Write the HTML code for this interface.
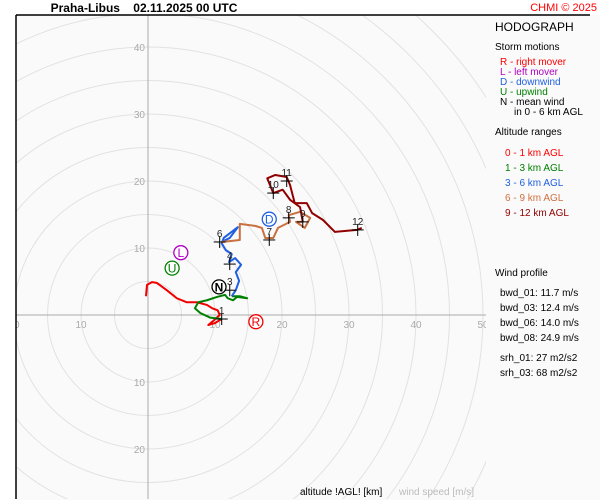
<!DOCTYPE html>
<html><head><meta charset="utf-8"><style>
html,body{margin:0;padding:0;background:#fff;font-family:"Liberation Sans",sans-serif;overflow:hidden;width:600px;height:500px;}
svg{display:block;overflow:hidden;}
svg text{font-family:"Liberation Sans",sans-serif;white-space:pre;}
</style></head><body>
<svg id="chart" width="600" height="500" viewBox="0 0 600 500" xmlns="http://www.w3.org/2000/svg">
<defs><clipPath id="pc"><rect x="16" y="15" width="470" height="484"/></clipPath></defs>
<rect x="0" y="0" width="600" height="500" fill="#fff"/>
<rect x="16" y="15" width="584" height="485" fill="#fafafa"/>
<g id="grid" clip-path="url(#pc)"></g>
<g id="series" clip-path="url(#pc)"></g>
<g id="marks"></g>
<line x1="16" y1="15" x2="590" y2="15" stroke="#000" stroke-width="1.5"/>
<line x1="16" y1="15" x2="16" y2="499" stroke="#000" stroke-width="1.5"/>
<text x="144" y="12" font-size="12" font-weight="bold" text-anchor="middle" xml:space="preserve">Praha-Libus    02.11.2025 00 UTC</text>
<text x="597" y="11" font-size="11" fill="#f00" text-anchor="end">CHMI © 2025</text>
<g font-size="11">
<text x="495" y="31" font-size="12">HODOGRAPH</text>
<text x="495" y="50" font-size="10">Storm motions</text>
<text x="500" y="65" font-size="10" fill="#f00">R - right mover</text>
<text x="500" y="75" font-size="10" fill="#b000c0">L - left mover</text>
<text x="500" y="85" font-size="10" fill="#2060e0">D - downwind</text>
<text x="500" y="95" font-size="10" fill="#008000">U - upwind</text>
<text x="500" y="105" font-size="10">N - mean wind</text>
<text x="514" y="115" font-size="10">in 0 - 6 km AGL</text>
<text x="495" y="135" font-size="10">Altitude ranges</text>
<text x="505" y="156" font-size="10" fill="#f00">0 - 1 km AGL</text>
<text x="505" y="171" font-size="10" fill="#008000">1 - 3 km AGL</text>
<text x="505" y="186" font-size="10" fill="#2060e0">3 - 6 km AGL</text>
<text x="505" y="201" font-size="10" fill="#d07040">6 - 9 km AGL</text>
<text x="505" y="216" font-size="10" fill="#900000">9 - 12 km AGL</text>
<text x="495" y="276" font-size="10">Wind profile</text>
<text x="500" y="296" font-size="10">bwd_01: 11.7 m/s</text>
<text x="500" y="311" font-size="10">bwd_03: 12.4 m/s</text>
<text x="500" y="326" font-size="10">bwd_06: 14.0 m/s</text>
<text x="500" y="341" font-size="10">bwd_08: 24.9 m/s</text>
<text x="500" y="361" font-size="10">srh_01: 27 m2/s2</text>
<text x="500" y="376" font-size="10">srh_03: 68 m2/s2</text>
</g>
<text x="300" y="495" font-size="10">altitude !AGL! [km]</text>
<text x="399" y="495" font-size="10" fill="#bbb">wind speed [m/s]</text>
</svg>
<script>
const ringSpeeds=[5,10,15,20,25,30,35,40,45,50,55,60];
const xTicks=[-20,-10,10,20,30,40,50];
const yTicks=[40,30,20,10,-10,-20];
const layerNames=['0-1km','1-3km','3-6km','6-9km','9-12km'];
const layerColors=['#f00000','#008000','#2060e0','#c87040','#900000'];
const u01=[-0.3,-0.15,0.6,1.3,2.8,4.3,5.8,7.3,8.8,9.6,10.4,10.7,9.6,9.0,10.0,11.0];
const v01=[2.8,4.5,4.9,4.8,3.7,2.5,1.9,1.9,1.5,1.0,0.7,0,-1.0,-1.5,-1.2,-0.6];
const u13=[11.0,9.3,7.8,7.0,7.5,8.8,10.3,11.5,11.9,12.7,13.3,14.8,13.7,12.5];
const v13=[-0.6,-0.4,0.3,1.0,1.9,2.2,2.7,3.0,2.5,2.2,2.7,2.5,2.8,2.8];
const u36=[12.5,13.1,13.6,13.1,13.9,13.0,12.1,12.5,11.6,11.0,11.3,13.4,12.2,11.0];
const v36=[2.8,3.7,5.1,6.4,7.5,8.5,7.9,9.1,9.7,10.7,11.5,13.1,11.5,10.9];
const u69=[11.0,13.7,13.7,16.0,17.0,17.5,18.7,19.4,21.2,21.0,22.7,24.2,23.4,22.1,23.1];
const v69=[10.9,11.2,13.6,13.3,13.0,11.5,11.5,13.0,13.9,14.9,15.4,14.5,13.0,13.9,13.9];
const u912=[23.1,22.7,21.2,20.1,18.7,17.8,19.0,20.7,21.2,21.9,23.7,24.5,26.1,27.9,31.2,31.9];
const v912=[13.9,16.1,17.2,18.7,18.2,20.4,20.9,20.6,19.4,16.7,16.7,15.2,14.2,12.4,12.7,13.0];
const heightLabels=['1','3','4','6','7','8','9','10','11','12'];
const heightU=[11.0,12.2,12.2,10.7,18.1,21.0,23.1,18.7,20.7,31.3];
const heightV=[-0.6,3.7,7.6,10.9,11.2,14.5,13.9,18.2,20.0,12.7];
const stormNames=['R','L','U','D','N'];
const stormU=[16.1,4.9,3.6,18.1,10.6];
const stormV=[-1.0,9.3,7.0,14.3,4.2];
const stormColors=['#f00000','#b000c0','#008000','#2060e0','#000000'];

const OX=148, OY=315, S=6.7;
const sx=u=>OX+u*S, sy=v=>OY-v*S;
const NS='http://www.w3.org/2000/svg';
function mk(tag,attrs,parent){const e=document.createElementNS(NS,tag);for(const k in attrs)e.setAttribute(k,attrs[k]);parent.appendChild(e);return e;}
const grid=document.getElementById('grid'), series=document.getElementById('series'), marks=document.getElementById('marks');
ringSpeeds.forEach(r=>{const c=mk('circle',{cx:OX,cy:OY,r:r*S,fill:'none',stroke:'#e2e2e2','stroke-width':1},grid);

});
let a=mk('line',{x1:16,y1:OY,x2:486,y2:OY,stroke:'#aaa'},grid);


a=mk('line',{x1:OX,y1:15,x2:OX,y2:499,stroke:'#aaa'},grid);


xTicks.forEach(t=>{const e=mk('text',{x:sx(t),y:OY+13,'font-size':10,fill:'#aaa','text-anchor':'middle'},grid);e.textContent=Math.abs(t);

});
yTicks.forEach(t=>{const e=mk('text',{x:OX-3,y:sy(t)+4,'font-size':10,fill:'#aaa','text-anchor':'end'},grid);e.textContent=Math.abs(t);

});
const layers=[[u01,v01],[u13,v13],[u36,v36],[u69,v69],[u912,v912]];
layers.forEach((L,i)=>{const pts=L[0].map((u,j)=>sx(u)+','+sy(L[1][j])).join(' ');
const p=mk('polyline',{points:pts,fill:'none',stroke:layerColors[i],'stroke-width':2,'stroke-linejoin':'round'},series);

});
heightLabels.forEach((l,i)=>{const x=sx(heightU[i]),y=sy(heightV[i]);
const g=mk('g',{},marks);


mk('line',{x1:x-6,y1:y,x2:x+6,y2:y,stroke:'#000'},g);
mk('line',{x1:x,y1:y-6,x2:x,y2:y+6,stroke:'#000'},g);
const t=mk('text',{x:x,y:y-5,'font-size':10,'text-anchor':'middle',fill:'#222'},g);t.textContent=l;});
stormNames.forEach((n,i)=>{const x=sx(stormU[i]),y=sy(stormV[i]);
const g=mk('g',{},marks);


mk('circle',{cx:x,cy:y,r:7,fill:'#fff',stroke:stormColors[i],'stroke-width':1.3},g);
const t=mk('text',{x:x,y:y+4.5,'font-size':12,'text-anchor':'middle',fill:stormColors[i],'font-weight':n==='N'?'bold':'normal'},g);t.textContent=n;});
</script>
</body></html>
